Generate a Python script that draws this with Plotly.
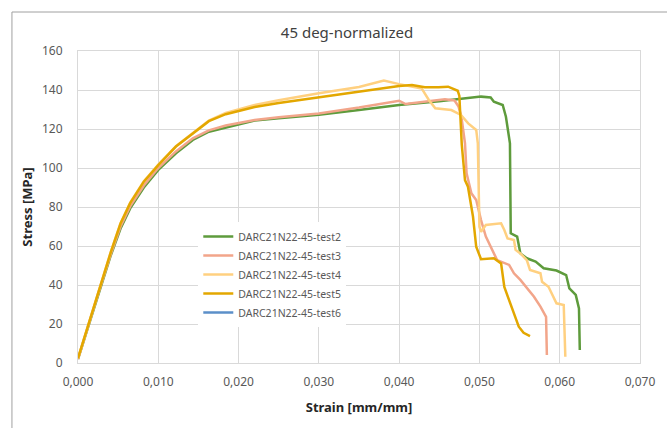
import plotly.graph_objects as go

# ---- data (strain [mm/mm], stress [MPa]) ----
test2_strain = [0, 0.0012, 0.0025, 0.0041, 0.0053, 0.0065, 0.0082, 0.01, 0.0122, 0.0143, 0.0163, 0.0184,
                0.022, 0.025, 0.03, 0.035, 0.04, 0.045, 0.048, 0.0502, 0.0514, 0.0518, 0.0529, 0.0533,
                0.0538, 0.0539, 0.0547, 0.0551, 0.0559, 0.057, 0.058, 0.0596, 0.0608, 0.0612, 0.062,
                0.0624, 0.0625]
test2_stress = [2, 18, 35, 55.4, 69, 79.3, 90, 99, 107.5, 114.4, 118.6, 120.8,
                124.3, 125.5, 127.3, 129.8, 132.3, 134.2, 135.5, 136.6, 136.2, 134, 132.3, 126.3,
                112.7, 66.5, 64.8, 56.2, 53.7, 52, 48.6, 47.4, 45.1, 38.3, 34.9,
                28, 6.7]

test3_strain = [0, 0.0012, 0.0025, 0.0041, 0.0053, 0.0065, 0.0082, 0.01, 0.0122, 0.0143, 0.0163, 0.0184,
                0.022, 0.025, 0.03, 0.035, 0.04, 0.0408, 0.0432, 0.0457, 0.0469, 0.0474, 0.04775, 0.0482,
                0.0484, 0.049, 0.0496, 0.0502, 0.0508, 0.0516, 0.0522, 0.0537, 0.0543, 0.0551, 0.0561,
                0.0568, 0.0576, 0.0583, 0.0584]
test3_stress = [2, 18.2, 35.3, 56, 70, 80.3, 91, 100, 108.5, 115.2, 119.3, 121.8,
                124.6, 126, 128, 131, 134.5, 132.8, 134, 135.2, 134.6, 131.5, 126.3, 112.7,
                97.3, 87, 83.6, 73.3, 64.8, 58, 52.8, 50.3, 46, 42.6, 37.4,
                34, 28.9, 23.7, 4.1]

test4_strain = [0, 0.0012, 0.0025, 0.0041, 0.0053, 0.0065, 0.0082, 0.01, 0.0122, 0.0143, 0.0163, 0.0184,
                0.022, 0.025, 0.03, 0.035, 0.0381, 0.04, 0.0428, 0.0437, 0.0445, 0.0465, 0.0477, 0.0486,
                0.0496, 0.0498, 0.05, 0.0502, 0.0508, 0.0527, 0.0531, 0.0535, 0.0543, 0.0545, 0.0551,
                0.0559, 0.0563, 0.0576, 0.0578, 0.0586, 0.059, 0.0596, 0.0605, 0.0607]
test4_stress = [2.4, 18.8, 36.2, 57.2, 71.7, 82.2, 93.2, 101.7, 111.2, 118, 124.3, 128.2,
                132.3, 134.7, 138.3, 141.5, 144.8, 143, 140.8, 134.9, 130.6, 129.7, 127.2, 122.9,
                119.5, 112.7, 69.9, 67.3, 70.8, 71.6, 68.2, 63.9, 63.1, 58, 56.2,
                52.8, 47.7, 46, 41.7, 39.1, 35.7, 30.6, 29.7, 3.2]

test5_strain = [0, 0.0012, 0.0025, 0.0041, 0.0053, 0.0065, 0.0082, 0.01, 0.0122, 0.0143, 0.0163, 0.0184,
                0.022, 0.025, 0.03, 0.035, 0.04, 0.0416, 0.0432, 0.0449, 0.0461, 0.0473, 0.0475, 0.0478,
                0.0482, 0.04857, 0.0492, 0.0496, 0.0502, 0.0518, 0.0527, 0.0531, 0.0537, 0.0543, 0.0549,
                0.0555, 0.0563]
test5_stress = [2.4, 18.6, 36, 57, 71.5, 82, 93, 101.5, 111, 117.8, 124, 127.6,
                131.3, 133.3, 136.2, 139.2, 142, 142.6, 141.4, 141.4, 141.7, 139.6, 137, 112,
                93.8, 90.4, 75, 59.6, 53.2, 53.7, 51, 39, 32.3, 25.5, 18.6,
                15.5, 13.8]

test6_strain = [None]
test6_stress = [None]

series_names = ["DARC21N22-45-test2", "DARC21N22-45-test3", "DARC21N22-45-test4",
                "DARC21N22-45-test5", "DARC21N22-45-test6"]
series_x = [test2_strain, test3_strain, test4_strain, test5_strain, test6_strain]
series_y = [test2_stress, test3_stress, test4_stress, test5_stress, test6_stress]
series_colors = ["#5E9B3C", "#F2A58A", "#FFD080", "#E3A700", "#5B8FC9"]

x_ticks = [0, 0.01, 0.02, 0.03, 0.04, 0.05, 0.06, 0.07]
y_ticks = [0, 20, 40, 60, 80, 100, 120, 140, 160]

FONT = "Noto Sans"
GRID = "#D9D9D9"
TXT = "#595959"

fig = go.Figure()
for name, xs, ys, c in zip(series_names, series_x, series_y, series_colors):
    fig.add_trace(go.Scatter(x=xs, y=ys, mode="lines", name=name,
                             line=dict(color=c, width=2.5)))

L, R, T, B = 78, 648, 51, 363
W, H = 667, 428
pw, ph = R - L, B - T

fig.update_layout(
    width=W, height=H,
    margin=dict(l=L, r=W - R, t=T, b=H - B, pad=0),
    paper_bgcolor="white", plot_bgcolor="white",
    separators=",.",
    font=dict(family=FONT, color=TXT, size=12),
    title=dict(text="45 deg-normalized", x=347 / W, xref="container", xanchor="center",
               y=1 - 33 / H, yref="container", yanchor="middle",
               font=dict(family=FONT, size=15, color="#404040")),
    xaxis=dict(range=[0, 0.07], tickvals=x_ticks, tickformat=".3f",
               showgrid=True, gridcolor=GRID, gridwidth=1, zeroline=False,
               showline=True, linecolor=GRID, linewidth=1, mirror=True,
               ticks="", ticklabelstandoff=8,
               tickfont=dict(family=FONT, size=12, color=TXT),
               title=dict(text="<b>Strain [mm/mm]</b>", standoff=13,
                          font=dict(family=FONT, size=13, color="#262626"))),
    yaxis=dict(range=[0, 160], tickvals=y_ticks,
               showgrid=True, gridcolor=GRID, gridwidth=1, zeroline=False,
               showline=True, linecolor=GRID, linewidth=1, mirror=True,
               ticks="", ticklabelstandoff=12,
               tickfont=dict(family=FONT, size=12, color=TXT),
               title=dict(text="<b>Stress [MPa]</b>", standoff=6,
                          font=dict(family=FONT, size=13, color="#262626"))),
    legend=dict(x=(200 - L) / pw, y=(B - 222) / ph, xanchor="left", yanchor="top",
                bgcolor="white", borderwidth=0, tracegroupgap=0,
                font=dict(family=FONT, size=10.5, color=TXT)),
    showlegend=True,
)

# outer chart frame (partly outside the captured area)
fig.add_shape(type="rect", xref="paper", yref="paper",
              x0=(11 - L) / pw, x1=(W + 30 - L) / pw,
              y0=(B - (H + 30)) / ph, y1=(B - 12) / ph,
              line=dict(color="#A0A0A0", width=1), fillcolor="rgba(0,0,0,0)", layer="below")

fig.write_html("out.html")
